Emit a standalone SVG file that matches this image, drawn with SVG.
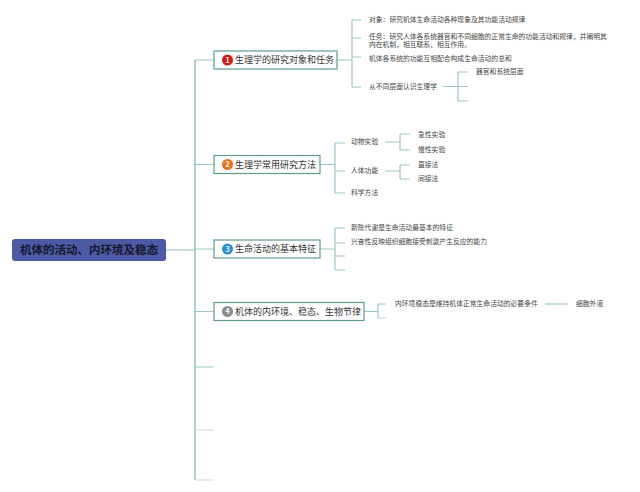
<svg xmlns="http://www.w3.org/2000/svg" width="640" height="492" viewBox="0 0 640 492">
<style>
text{font-family:"Noto Sans CJK SC","Noto Sans",sans-serif;}
.c{fill:none;stroke:#9cc8bb;stroke-width:1.2;}
.cl{fill:none;stroke:#c9dcd6;stroke-width:1.2;}
.tr{fill:none;stroke:#b3d3ca;stroke-width:2;}
.nb{fill:#fff;stroke:#5e9c8c;stroke-width:1.2;}
.nt{font-size:9px;fill:#333;}
.st{font-size:6.8px;fill:#444;}
.num{font-size:7px;fill:#fff;text-anchor:middle;font-weight:bold;}
</style>
<rect width="640" height="492" fill="#fff"/>
<g id="connectors">
<path class="c" d="M166 250H195"/>
<path class="tr" d="M195 60V480"/>
<path class="c" d="M195 60H214M195 164.5H214M195 249H214M195 311.5H214M195 367H214"/>
<path class="cl" d="M195 430H214M195 480H214"/>
<path class="c" d="M337 60H352M352 20V87M352 20H361M352 38H361M352 57H361M352 87H361"/>
<path class="c" d="M443 86.5H458M458 72V101M458 72H468M458 86.5H468M458 101H468"/>
<path class="c" d="M320 164.5H335M335 143V193M335 143H345M335 171H345M335 193H345"/>
<path class="c" d="M385 142H400M400 134V150M400 134H410M400 150H410"/>
<path class="c" d="M385 171H400M400 165V179M400 165H410M400 179H410"/>
<path class="c" d="M320 249H335M335 228V270M335 228H345M335 243H345M335 256H345M335 270H345"/>
<path class="c" d="M364 311.5H378M378 304V318M378 304H386"/>
<path class="cl" d="M378 318H386"/>
<path class="c" d="M545 304H568"/>
</g>
<g id="root">
<rect x="12" y="239" width="154" height="22" rx="3" fill="#4c5aa6"/>
<text x="89" y="254" font-size="11.5" font-weight="bold" fill="#16182a" text-anchor="middle">机体的活动、内环境及稳态</text>
</g>
<g id="n1">
<rect class="nb" x="214" y="51" width="123" height="18"/>
<circle cx="227.5" cy="60" r="5.5" fill="#d21f1a"/>
<text class="num" x="227.5" y="62.5">1</text>
<text class="nt" x="235" y="63.3">生理学的研究对象和任务</text>
</g>
<g id="n1-children">
<text class="st" x="369" y="22.4">对象：研究机体生命活动各种现象及其功能活动规律</text>
<text class="st" x="369" y="38.6">任务：研究人体各系统器官和不同细胞的正常生命的功能活动和规律，并阐明其</text>
<text class="st" x="369" y="47.4">内在机制，相互联系、相互作用。</text>
<text class="st" x="369" y="60.6">机体各系统的功能互相配合构成生命活动的总和</text>
<text class="st" x="369" y="89">从不同层面认识生理学</text>
<text class="st" x="476" y="74.4">器官和系统层面</text>
</g>
<g id="n2">
<rect class="nb" x="214" y="155.5" width="106" height="18"/>
<circle cx="227.5" cy="164.5" r="5.5" fill="#e8731c"/>
<text class="num" x="227.5" y="167">2</text>
<text class="nt" x="235" y="167.8">生理学常用研究方法</text>
</g>
<g id="n2-children">
<text class="st" x="351" y="144.4">动物实验</text>
<text class="st" x="351" y="173.4">人体功能</text>
<text class="st" x="351" y="195.4">科学方法</text>
<text class="st" x="418" y="136.9">急性实验</text>
<text class="st" x="418" y="152.4">慢性实验</text>
<text class="st" x="418" y="167.4">直接法</text>
<text class="st" x="418" y="181.4">间接法</text>
</g>
<g id="n3">
<rect class="nb" x="214" y="240" width="106" height="18"/>
<circle cx="227.5" cy="249" r="5.5" fill="#2a8fd8"/>
<text class="num" x="227.5" y="251.5">3</text>
<text class="nt" x="235" y="252.3">生命活动的基本特征</text>
</g>
<g id="n3-children">
<text class="st" x="351" y="230.4">新陈代谢是生命活动最基本的特征</text>
<text class="st" x="351" y="244.4">兴奋性反映组织细胞接受刺激产生反应的能力</text>
</g>
<g id="n4">
<rect class="nb" x="214" y="302.5" width="150" height="18"/>
<circle cx="227.5" cy="311.5" r="5.5" fill="#8c8c8c"/>
<text class="num" x="227.5" y="314">4</text>
<text class="nt" x="235" y="314.8">机体的内环境、稳态、生物节律</text>
</g>
<g id="n4-children">
<text class="st" x="395" y="306.4">内环境稳态是维持机体正常生命活动的必要条件</text>
<text class="st" x="576" y="306.4">细胞外液</text>
</g>
</svg>
